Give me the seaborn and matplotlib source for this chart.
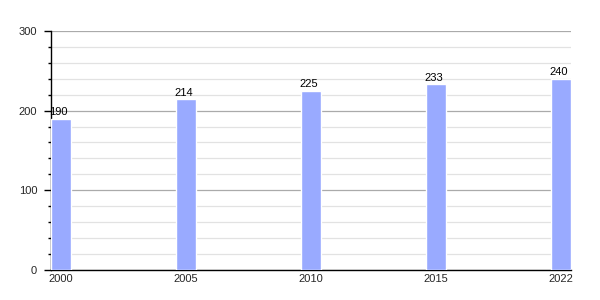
import matplotlib
matplotlib.use("Agg")
import matplotlib.pyplot as plt
import seaborn as sns
import pandas as pd
from matplotlib.ticker import MultipleLocator

years = ["2000", "2005", "2010", "2015", "2022"]
values = [190, 214, 225, 233, 240]

sns.set_style("white")
plt.rcParams['font.family'] = ['Liberation Sans', 'DejaVu Sans']

df = pd.DataFrame({"year": years, "value": values})

fig = plt.figure(figsize=(6, 3), dpi=100)
ax = fig.add_axes([0.085, 0.1, 0.867, 0.797])

sns.barplot(data=df, x="year", y="value", color="#99aaff", saturation=1,
            width=0.16, ax=ax, zorder=3)

ax.set_xlim(-0.08, 4.08)
ax.set_ylim(0, 300)
ax.yaxis.set_major_locator(MultipleLocator(100))
ax.yaxis.set_minor_locator(MultipleLocator(20))
ax.grid(which="major", axis="y", color="#aaaaaa", linewidth=0.9, zorder=0)
ax.grid(which="minor", axis="y", color="#e2e2e2", linewidth=0.9, zorder=0)
ax.set_axisbelow(True)

for s in ["top", "right"]:
    ax.spines[s].set_visible(False)
for s in ["left", "bottom"]:
    ax.spines[s].set_color("black")
    ax.spines[s].set_linewidth(1.0)

ax.tick_params(axis="y", which="major", length=5, width=1, color="black",
               labelsize=8, pad=5, left=True)
ax.tick_params(axis="y", which="minor", length=2.5, width=1, color="black", left=True)
ax.tick_params(axis="x", length=0, labelsize=8, pad=3)
ax.set_xlabel("")
ax.set_ylabel("")

for i, v in enumerate(values):
    ax.text(i - 0.02, v + 2, str(v), ha="center", va="bottom", fontsize=8, color="black")

fig.savefig("out.png", dpi=100)
